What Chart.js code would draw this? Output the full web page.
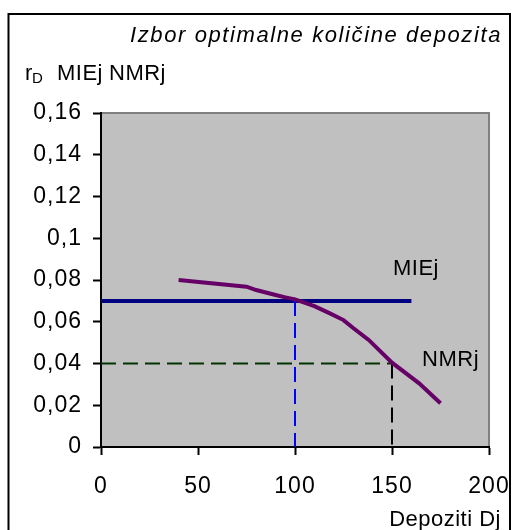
<!DOCTYPE html>
<html>
<head>
<meta charset="utf-8">
<script src="https://cdn.jsdelivr.net/npm/chart.js@4.4.1/dist/chart.umd.min.js"></script>
<style>
html, body { margin: 0; padding: 0; background: #fff; }
</style>
</head>
<body>
<canvas id="grafikon" width="512" height="530"></canvas>
<script>
// tekstovi
const naslov = 'Izbor optimalne količine depozita';
const osaXNaziv = 'Depoziti Dj';

// MIEj - horizontalna linija
const mieX = [0, 50, 80, 100, 130, 150, 160];
const mieY = [0.07, 0.07, 0.07, 0.07, 0.07, 0.07, 0.07];

// NMRj - opadajuca kriva
const nmrX = [40, 75, 80, 90, 95, 100, 110, 118, 125, 130, 138, 150, 164, 175];
const nmrY = [0.08, 0.0768, 0.0752, 0.0728, 0.0717, 0.0707, 0.0675, 0.064, 0.0608, 0.057, 0.0513, 0.0404, 0.0305, 0.021];

// isprekidane pomocne linije
const optX = [100, 100];
const optY = [0.07, 0];
const nivoX = [0, 150];
const nivoY = [0.04, 0.04];
const granX = [150, 150];
const granY = [0.04, 0];

// podeoci
const xTicks = [0, 50, 100, 150, 200];
const yTicks = [0, 0.02, 0.04, 0.06, 0.08, 0.1, 0.12, 0.14, 0.16];

const font = '"Liberation Sans", Arial, sans-serif';

function tacke(xs, ys) {
    return xs.map((x, i) => ({ x: x, y: ys[i] }));
}

function formatY(v) {
    return String(Math.round(v * 100) / 100).replace('.', ',');
}

// pozadina i okvir
const pozadina = {
    id: 'pozadina',
    beforeDraw(chart) {
        const ctx = chart.ctx;
        const a = chart.chartArea;
        ctx.letterSpacing = '1px';
        ctx.save();
        ctx.fillStyle = '#c0c0c0';
        ctx.fillRect(a.left, a.top, a.right - a.left, a.bottom - a.top);
        ctx.strokeStyle = '#808080';
        ctx.lineWidth = 2;
        ctx.beginPath();
        ctx.moveTo(a.left, a.top);
        ctx.lineTo(a.right, a.top);
        ctx.lineTo(a.right, a.bottom);
        ctx.stroke();
        ctx.restore();
    }
};

// natpisi
const natpisi = {
    id: 'natpisi',
    afterDraw(chart) {
        const ctx = chart.ctx;
        const xs = chart.scales.x;
        const ys = chart.scales.y;
        ctx.save();
        ctx.fillStyle = '#000';
        ctx.textBaseline = 'alphabetic';

        ctx.letterSpacing = '1.6px';
        ctx.font = 'italic 22px ' + font;
        ctx.textAlign = 'right';
        ctx.fillText(naslov, 502, 42);

        ctx.textAlign = 'left';
        ctx.letterSpacing = '0.5px';
        ctx.font = '22px ' + font;
        ctx.fillText('r', 25, 80);
        ctx.font = '15px ' + font;
        ctx.letterSpacing = '0px';
        ctx.fillText('D', 32, 83);
        ctx.letterSpacing = '0.5px';
        ctx.font = '22px ' + font;
        ctx.fillText('MIEj', 57, 80);
        ctx.fillText('NMRj', 109, 80);

        ctx.fillText('MIEj', xs.getPixelForValue(150.5), ys.getPixelForValue(0.07) - 26);
        ctx.fillText('NMRj', xs.getPixelForValue(165.5), ys.getPixelForValue(0.04) + 2);

        ctx.textAlign = 'right';
        ctx.fillText(osaXNaziv, 501, 526);

        ctx.strokeStyle = '#000';
        ctx.lineWidth = 2;
        ctx.strokeRect(8.5, 14, 501.5, 600);
        ctx.restore();
    }
};

const ctx = document.getElementById('grafikon').getContext('2d');

new Chart(ctx, {
    type: 'scatter',
    data: {
        datasets: [
            {
                label: 'NMRj',
                data: tacke(nmrX, nmrY),
                showLine: true,
                borderColor: '#660066',
                borderWidth: 4,
                pointRadius: 0,
                tension: 0,
                order: 0
            },
            {
                label: 'opt',
                data: tacke(optX, optY),
                showLine: true,
                borderColor: '#0000ff',
                borderWidth: 2,
                borderDash: [15, 7],
                pointRadius: 0,
                order: 1
            },
            {
                label: 'gran',
                data: tacke(granX, granY),
                showLine: true,
                borderColor: '#000000',
                borderWidth: 2,
                borderDash: [15, 7],
                pointRadius: 0,
                order: 2
            },
            {
                label: 'nivo',
                data: tacke(nivoX, nivoY),
                showLine: true,
                borderColor: '#003300',
                borderWidth: 2,
                borderDash: [15, 7],
                pointRadius: 0,
                order: 3
            },
            {
                label: 'MIEj',
                data: tacke(mieX, mieY),
                showLine: true,
                borderColor: '#000080',
                borderWidth: 4,
                pointRadius: 0,
                order: 4
            }
        ]
    },
    options: {
        responsive: false,
        animation: false,
        devicePixelRatio: 1,
        layout: { padding: { top: 113, right: 23, left: 0, bottom: 0 } },
        plugins: {
            legend: { display: false },
            tooltip: { enabled: false },
            title: { display: false }
        },
        scales: {
            x: {
                type: 'linear',
                min: 0,
                max: 200,
                afterBuildTicks: s => { s.ticks = xTicks.map(v => ({ value: v })); },
                afterFit: s => { s.height = 83; s.paddingLeft = 0; s.paddingRight = 0; },
                ticks: {
                    color: '#000',
                    font: { family: font, size: 23 },
                    padding: 18,
                    maxRotation: 0,
                    autoSkip: false
                },
                grid: {
                    drawOnChartArea: false,
                    drawTicks: true,
                    tickLength: 8,
                    tickColor: '#000',
                    tickWidth: 2
                },
                border: { color: '#000', width: 2 }
            },
            y: {
                type: 'linear',
                min: 0,
                max: 0.16,
                afterBuildTicks: s => { s.ticks = yTicks.map(v => ({ value: v })); },
                afterFit: s => { s.width = 101; s.paddingTop = 0; s.paddingBottom = 0; },
                ticks: {
                    color: '#000',
                    font: { family: font, size: 23 },
                    padding: 11,
                    autoSkip: false,
                    callback: v => formatY(v)
                },
                grid: {
                    drawOnChartArea: false,
                    drawTicks: true,
                    tickLength: 8,
                    tickColor: '#000',
                    tickWidth: 2
                },
                border: { color: '#000', width: 2 }
            }
        }
    },
    plugins: [pozadina, natpisi]
});
</script>
</body>
</html>
